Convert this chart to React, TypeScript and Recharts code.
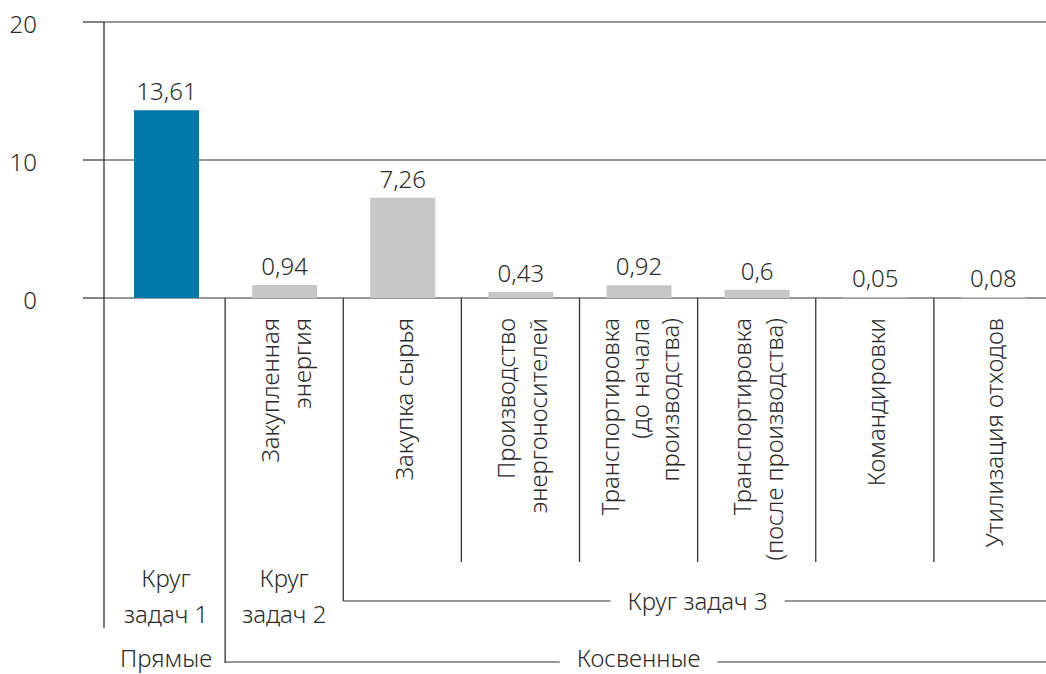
import React from "react";
import { BarChart, Bar, XAxis, YAxis, CartesianGrid, LabelList, Cell } from "recharts";

// rotated category labels, "\n" splits lines
const categories = [
  "",
  "Закупленная\nэнергия",
  "Закупка сырья",
  "Производство\nэнергоносителей",
  "Транспортировка\n(до начала\nпроизводства)",
  "Транспортировка\n(после производства)",
  "Командировки",
  "Утилизация отходов",
];
const emissions = [13.61, 0.94, 7.26, 0.43, 0.92, 0.6, 0.05, 0.08];
const circles = [
  "Круг задач 1",
  "Круг задач 2",
  "Круг задач 3",
  "Круг задач 3",
  "Круг задач 3",
  "Круг задач 3",
  "Круг задач 3",
  "Круг задач 3",
];
const scopes = ["Прямые", "Косвенные", "Косвенные", "Косвенные", "Косвенные", "Косвенные", "Косвенные", "Косвенные"];
const yTicks = [0, 10, 20];

const data = categories.map((name, i) => ({ name: name || " ", value: emissions[i] }));

const FONT = '"Noto Sans", sans-serif';
const TEXT = "#2b2b2b";
const LINE = "#333";
const SIZE = 24;
const PAD = 3; // gap between y axis and first band

let ctx: CanvasRenderingContext2D | null = null;
const textWidth = (s: string) => {
  if (!ctx) ctx = document.createElement("canvas").getContext("2d");
  if (!ctx) return s.length * 12;
  ctx.font = `300 ${SIZE}px "Noto Sans"`;
  return ctx.measureText(s).width;
};

const lastIndex = (arr: string[], i: number) => {
  let j = i;
  while (j + 1 < arr.length && arr[j + 1] === arr[i]) j++;
  return j;
};

const txt = { fontFamily: FONT, fontSize: SIZE, fontWeight: 300, fill: TEXT };

const GroupLabel = ({ label, left, right, base, lineY }: any) => {
  const cx = (left + right) / 2;
  const half = textWidth(label) / 2 + 17;
  return (
    <g>
      <line x1={left} y1={lineY} x2={cx - half} y2={lineY} stroke={LINE} />
      <line x1={cx + half} y1={lineY} x2={right} y2={lineY} stroke={LINE} />
      <text x={cx} y={base} textAnchor="middle" {...txt}>
        {label}
      </text>
    </g>
  );
};

const CategoryTick = (props: any) => {
  const { x, y, index, payload } = props;
  const i = index ?? payload.index;
  const half = payload.offset || 59;
  const left = i === 0 ? x - half - PAD : x - half;

  // separator on the left side of the cell
  let sepEnd = y + 264;
  if (i === 0) sepEnd = y + 330;
  else if (scopes[i] !== scopes[i - 1]) sepEnd = y + 365;
  else if (circles[i] !== circles[i - 1]) sepEnd = y + 303;

  const lines = categories[i] ? categories[i].split("\n") : [];
  const step = lines.length > 2 ? 30 : 32;

  const items: React.ReactNode[] = [];
  items.push(<line key="sep" x1={left} y1={y} x2={left} y2={sepEnd} stroke={LINE} strokeWidth={1.3} />);

  lines.forEach((ln, k) => {
    const lx = x + 2 + (k - (lines.length - 1) / 2) * step;
    const ly = y + 20;
    items.push(
      <text key={"l" + k} x={lx} y={ly} dy="0.35em" textAnchor="end" transform={`rotate(-90, ${lx}, ${ly})`} {...txt}>
        {ln}
      </text>
    );
  });

  if (i === 0 || circles[i] !== circles[i - 1]) {
    const j = lastIndex(circles, i);
    if (j === i) {
      const sp = circles[i].indexOf(" ");
      items.push(
        <text key="c1" x={x} y={y + 289} textAnchor="middle" {...txt}>
          {circles[i].slice(0, sp)}
        </text>,
        <text key="c2" x={x} y={y + 325} textAnchor="middle" {...txt}>
          {circles[i].slice(sp + 1)}
        </text>
      );
    } else {
      items.push(
        <GroupLabel key="cg" label={circles[i]} left={left} right={x + (j - i) * 2 * half + half} base={y + 312} lineY={y + 303} />
      );
    }
  }

  if (i === 0 || scopes[i] !== scopes[i - 1]) {
    const j = lastIndex(scopes, i);
    if (j === i) {
      items.push(
        <text key="s" x={x} y={y + 369} textAnchor="middle" {...txt}>
          {scopes[i]}
        </text>
      );
    } else {
      items.push(
        <GroupLabel key="sg" label={scopes[i]} left={left} right={x + (j - i) * 2 * half + half} base={y + 369} lineY={y + 364} />
      );
    }
  }

  return <g>{items}</g>;
};

const ValueTick = ({ x, y, payload }: any) => (
  <text x={x} y={y} dy={11} textAnchor="end" {...txt}>
    {payload.value}
  </text>
);

export default function App() {
  return (
    <div style={{ position: "absolute", left: 0, top: 0, width: 1046, height: 674, overflow: "hidden", background: "#fff" }}>
      <BarChart width={1052} height={674} data={data} margin={{ top: 22, right: 0, bottom: 0, left: 0 }}>
        <CartesianGrid vertical={false} stroke={LINE} strokeWidth={1.2} />
        <YAxis
          domain={[0, 20]}
          ticks={yTicks}
          width={104}
          tickSize={21}
          tickMargin={46}
          tickLine={{ stroke: LINE, strokeWidth: 1.2 }}
          axisLine={{ stroke: LINE, strokeWidth: 1.3 }}
          tick={<ValueTick />}
          interval={0}
        />
        <XAxis
          dataKey="name"
          interval={0}
          height={376}
          padding={{ left: PAD, right: 0 }}
          tickSize={0}
          tickMargin={0}
          tickLine={false}
          axisLine={false}
          tick={<CategoryTick />}
        />
        <Bar dataKey="value" barSize={65} isAnimationActive={false}>
          {data.map((_, i) => (
            <Cell key={i} fill={scopes[i] === "Прямые" ? "#0078a9" : "#c6c7c6"} />
          ))}
          <LabelList
            dataKey="value"
            position="top"
            offset={10}
            formatter={(v: any) => String(v).replace(".", ",")}
            style={{ fontFamily: FONT, fontSize: SIZE, fontWeight: 300 }}
            fill={TEXT}
          />
        </Bar>
      </BarChart>
    </div>
  );
}
